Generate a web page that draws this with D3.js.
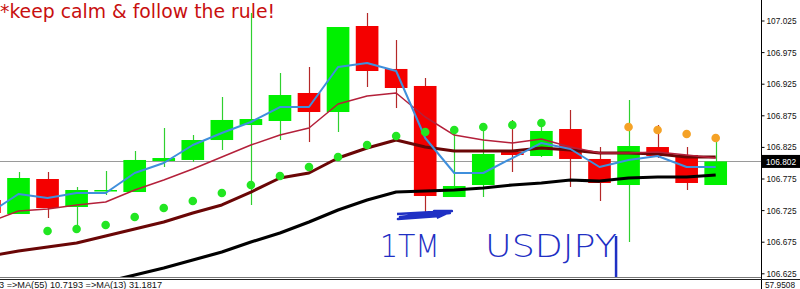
<!DOCTYPE html>
<html lang="en">
<head>
<meta charset="UTF-8">
<title>USDJPY M1</title>
<script src="https://d3js.org/d3.v7.min.js"></script>
<style>
  html, body { margin: 0; padding: 0; background: #fff; overflow: hidden; }
  svg { display: block; }
</style>
</head>
<body>
<div id="chart"></div>
<script>
// bars, oldest first (index -1 is the bar cut off by the left edge)
const barIndex = d3.range(-1, 25);
const opens  = [106.741, 106.7188, 106.7742, 106.7299, 106.7552, 106.7536, 106.8027, 106.8043, 106.8359, 106.8596, 106.866, 106.9103, 106.8802, 107.0163, 106.9483, 106.9214, 106.7457, 106.7647, 106.8169, 106.8106, 106.8533, 106.8059, 106.7647, 106.8248, 106.8122, 106.7647];
const highs  = [106.7489, 106.7853, 106.7853, 106.7616, 106.7869, 106.8185, 106.8549, 106.8438, 106.904, 107.0369, 106.9419, 106.9514, 107.0147, 107.0369, 106.9941, 106.934, 106.847, 106.8517, 106.8676, 106.8596, 106.8834, 106.8248, 106.8992, 106.8596, 106.8248, 106.8359];
const lows   = [106.716, 106.7188, 106.7125, 106.6888, 106.7489, 106.7536, 106.7932, 106.8011, 106.8201, 106.7331, 106.8359, 106.8327, 106.8486, 106.9198, 106.8865, 106.7125, 106.7457, 106.7457, 106.7853, 106.809, 106.7616, 106.7394, 106.6745, 106.8074, 106.7568, 106.7647];
const closes = [106.7204, 106.7758, 106.7283, 106.7568, 106.7568, 106.8043, 106.8074, 106.8359, 106.8676, 106.8691, 106.9071, 106.8802, 107.0147, 106.9451, 106.9182, 106.7473, 106.7631, 106.8138, 106.8122, 106.8502, 106.8059, 106.7679, 106.8264, 106.8106, 106.7679, 106.802];

// moving averages, one value per bar
const maBlue    = [106.7204, 106.7505, 106.7441, 106.7521, 106.7521, 106.7837, 106.7995, 106.828, 106.847, 106.8644, 106.8881, 106.8881, 106.9514, 106.9578, 106.9451, 106.8391, 106.7837, 106.7837, 106.8074, 106.8312, 106.8217, 106.7932, 106.8043, 106.8106, 106.7932, 106.7932];
const maCrimson = [106.7062, 106.7236, 106.7267, 106.7331, 106.7378, 106.7568, 106.7726, 106.79, 106.809, 106.828, 106.8438, 106.8549, 106.8929, 106.9055, 106.9103, 106.8723, 106.8438, 106.8359, 106.8312, 106.8375, 106.8248, 106.8153, 106.8153, 106.8169, 106.8122, 106.8074];
const maMaroon  = [106.6524, 106.6603, 106.6666, 106.6729, 106.684, 106.6951, 106.7062, 106.7204, 106.7331, 106.7536, 106.7758, 106.7837, 106.8074, 106.8233, 106.8359, 106.8248, 106.8185, 106.8185, 106.8185, 106.8233, 106.8201, 106.8153, 106.8153, 106.8138, 106.809, 106.809];
const maBlack   = [106.567, 106.578, 106.5891, 106.6001, 106.6112, 106.6223, 106.6334, 106.646, 106.6587, 106.6745, 106.6888, 106.7062, 106.7252, 106.741, 106.7536, 106.7552, 106.7568, 106.76, 106.7647, 106.7679, 106.7726, 106.771, 106.7758, 106.7774, 106.7774, 106.7805];

// parabolic SAR dots
const sarGreen  = [null, null, 106.6919, 106.6951, 106.7014, 106.7141, 106.7283, 106.7394, 106.7521, 106.7647, 106.779, 106.7932, 106.809, 106.828, 106.8422, 106.8486, 106.8517, 106.8565, 106.8596, 106.8628, null, null, null, null, null, null];
const sarOrange = [null, null, null, null, null, null, null, null, null, null, null, null, null, null, null, null, null, null, null, null, null, null, 106.8565, 106.8517, 106.8454, 106.8391];

const priceTicks = [106.625, 106.675, 106.725, 106.775, 106.825, 106.875, 106.925, 106.975, 107.025];
const lastPrice = 106.802;
const titleText = "*keep calm & follow the rule!";
const subLegend = "3  =>MA(55) 10.7193  =>MA(13) 31.1817";
const subValue = "57.9508";

// hand written notes, in bar index / price units
const noteWords = [
  { text: "1TM", from: 12.44, to: 14.5, price: 106.6508 },
  { text: "USDJPY", from: 16.06, to: 20.6, price: 106.6508 }
];
const scribble = [[13.03, 106.7188], [14.92, 106.7236], [13.13, 106.7141], [14.85, 106.7204], [13.06, 106.7109], [14.5, 106.7157], [14.3, 106.7236], [14.92, 106.7236], [14.4, 106.7125]];
const tail = [[20.57, 106.684], [20.57, 106.6191]];

const width = 800, height = 289;
const plotW = 761, plotH = 277;

const bars = barIndex.map((i, k) => ({
  i, open: opens[k], high: highs[k], low: lows[k], close: closes[k]
}));

const x = d3.scaleLinear().domain([0, 24]).range([18.5, 715.7]);
const y = d3.scaleLinear().domain([106.625, 107.025]).range([273.3, 20.5]);
const bodyW = (x(1) - x(0)) * 0.78;

const svg = d3.select("#chart").append("svg")
  .attr("width", width)
  .attr("height", height)
  .style("font-family", "'Liberation Sans', Arial, sans-serif");

svg.append("defs").append("clipPath").attr("id", "plot")
  .append("rect").attr("width", plotW).attr("height", plotH);

const plot = svg.append("g").attr("clip-path", "url(#plot)");

// bid line
plot.append("line")
  .attr("x1", 0).attr("x2", plotW)
  .attr("y1", Math.round(y(lastPrice)) + 0.5).attr("y2", Math.round(y(lastPrice)) + 0.5)
  .attr("stroke", "#9a9a9a");

// candles
const up = d => d.close >= d.open;
const candle = plot.selectAll(".candle").data(bars).join("g").attr("class", "candle");
candle.append("line")
  .attr("x1", d => Math.round(x(d.i)) + 0.5).attr("x2", d => Math.round(x(d.i)) + 0.5)
  .attr("y1", d => y(d.high)).attr("y2", d => y(d.low))
  .attr("stroke", d => up(d) ? "#2fd02f" : "#b42828")
  .attr("stroke-width", 1.2);
candle.append("rect")
  .attr("x", d => x(d.i) - bodyW / 2)
  .attr("width", bodyW)
  .attr("y", d => y(Math.max(d.open, d.close)))
  .attr("height", d => Math.max(1.5, Math.abs(y(d.open) - y(d.close))))
  .attr("fill", d => up(d) ? "#00f000" : "#f40000");

// moving averages
function drawLine(values, color, w) {
  const pts = barIndex.map((i, k) => [i, values[k]]).filter(p => p[1] != null);
  plot.append("path")
    .datum(pts)
    .attr("fill", "none")
    .attr("stroke", color)
    .attr("stroke-width", w)
    .attr("stroke-linejoin", "round")
    .attr("d", d3.line().x(p => x(p[0])).y(p => y(p[1])));
}
drawLine(maBlack, "#000000", 3.2);
drawLine(maMaroon, "#6a0606", 3);
drawLine(maCrimson, "#b4203a", 1.5);
drawLine(maBlue, "#3f8fdc", 2);

// SAR dots
function drawDots(values, color) {
  const pts = barIndex.map((i, k) => [i, values[k]]).filter(p => p[1] != null);
  plot.selectAll(null).data(pts).join("circle")
    .attr("cx", p => x(p[0]))
    .attr("cy", p => y(p[1]))
    .attr("r", 4.3)
    .attr("fill", color);
}
drawDots(sarGreen, "#22e622");
drawDots(sarOrange, "#f5a226");

// hand written notes
const ink = "#1f30c4";
noteWords.forEach(n => {
  plot.append("text")
    .attr("x", x(n.from))
    .attr("y", y(n.price))
    .attr("textLength", x(n.to) - x(n.from))
    .attr("lengthAdjust", "spacingAndGlyphs")
    .attr("fill", ink)
    .style("font-family", "'DejaVu Sans', sans-serif")
    .style("font-size", "32px")
    .style("font-weight", 300)
    .text(n.text);
});
plot.append("path")
  .datum(scribble)
  .attr("fill", "none").attr("stroke", ink).attr("stroke-width", 2.4)
  .attr("stroke-linejoin", "round")
  .attr("d", d3.line().x(p => x(p[0])).y(p => y(p[1])));
plot.append("path")
  .datum(tail)
  .attr("fill", "none").attr("stroke", ink).attr("stroke-width", 2.5)
  .attr("d", d3.line().x(p => x(p[0])).y(p => y(p[1])));

// title
svg.append("text")
  .attr("x", 0).attr("y", 18)
  .attr("textLength", 275)
  .attr("lengthAdjust", "spacingAndGlyphs")
  .attr("fill", "#c80f0f")
  .style("font-family", "'DejaVu Sans', sans-serif")
  .style("font-size", "20px")
  .text(titleText);

// price axis
svg.append("line")
  .attr("x1", plotW + 0.5).attr("x2", plotW + 0.5)
  .attr("y1", 0).attr("y2", height)
  .attr("stroke", "#000");

const axis = svg.append("g")
  .attr("transform", `translate(${plotW + 0.5},0)`)
  .call(d3.axisRight(y).tickValues(priceTicks).tickSize(3).tickPadding(2).tickFormat(d3.format(".3f")));
axis.select(".domain").remove();
axis.selectAll("text")
  .attr("textLength", 30)
  .attr("lengthAdjust", "spacingAndGlyphs")
  .style("font-family", "'Liberation Sans', Arial, sans-serif")
  .style("font-size", "9.5px")
  .attr("fill", "#111");

// last price label
const ly = y(lastPrice);
svg.append("rect")
  .attr("x", plotW + 1).attr("y", ly - 6.5)
  .attr("width", width - plotW - 1).attr("height", 13)
  .attr("fill", "#000");
svg.append("text")
  .attr("x", plotW + 5).attr("y", ly + 3.5)
  .attr("textLength", 30)
  .attr("lengthAdjust", "spacingAndGlyphs")
  .attr("fill", "#fff")
  .style("font-size", "9.5px")
  .text(d3.format(".3f")(lastPrice));

// indicator window below
svg.append("line")
  .attr("x1", 0).attr("x2", plotW)
  .attr("y1", plotH + 0.5).attr("y2", plotH + 0.5)
  .attr("stroke", "#777");
svg.append("line")
  .attr("x1", 0).attr("x2", width)
  .attr("y1", plotH + 2.5).attr("y2", plotH + 2.5)
  .attr("stroke", "#222");
svg.append("text")
  .attr("x", -1).attr("y", 288)
  .attr("textLength", 163)
  .attr("lengthAdjust", "spacingAndGlyphs")
  .attr("fill", "#111")
  .style("font-size", "9px")
  .text(subLegend);
svg.append("text")
  .attr("x", plotW + 4).attr("y", 288)
  .attr("textLength", 30)
  .attr("lengthAdjust", "spacingAndGlyphs")
  .attr("fill", "#111")
  .style("font-size", "9.5px")
  .text(subValue);
</script>
</body>
</html>
